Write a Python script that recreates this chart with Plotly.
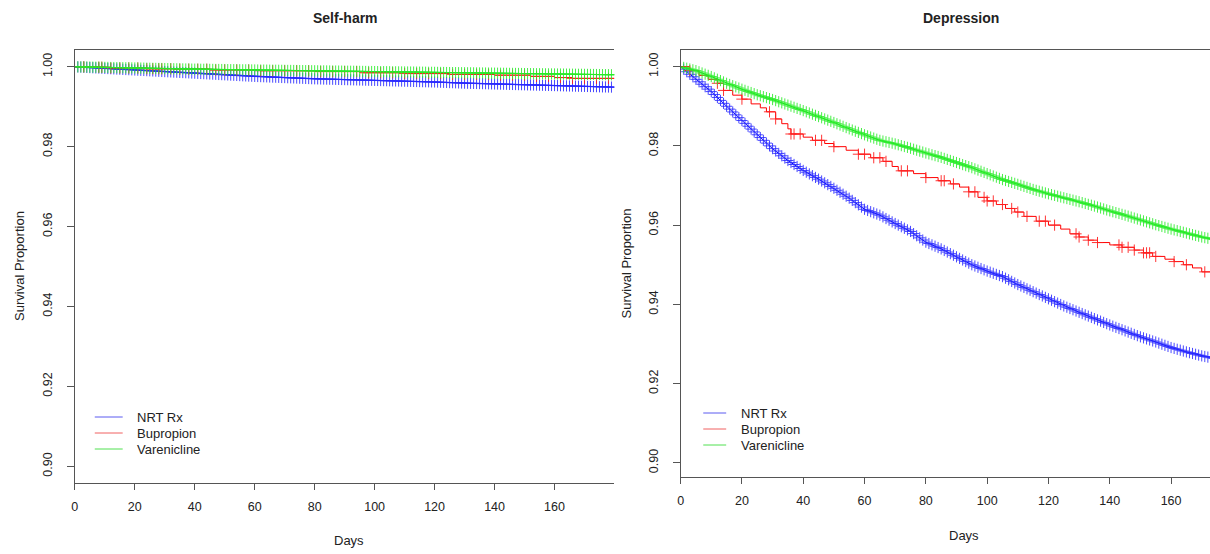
import numpy as np
import plotly.graph_objects as go

W, H = 1210, 554

# ---------------- data ----------------
group_names = ["NRT Rx", "Bupropion", "Varenicline"]
panel_titles = ["Self-harm", "Depression"]
x_tick_vals = [0, 20, 40, 60, 80, 100, 120, 140, 160]
x_tick_text = ["0", "20", "40", "60", "80", "100", "120", "140", "160"]
y_tick_vals = [0.90, 0.92, 0.94, 0.96, 0.98, 1.00]
y_tick_text = ["0.90", "0.92", "0.94", "0.96", "0.98", "1.00"]

# Self-harm panel
sh_nrt_t = [0, 10, 20, 30, 40, 50, 60, 70, 80, 90, 100, 110, 120, 130, 140, 150, 160, 170, 180]
sh_nrt_s = [1.0, 0.9996, 0.9992, 0.9988, 0.9984, 0.9980, 0.9976, 0.9973, 0.9970, 0.9968,
            0.9966, 0.9964, 0.9962, 0.9959, 0.9957, 0.9955, 0.9953, 0.9951, 0.9949]
sh_bup_t = [0, 8, 12, 24, 33, 45, 62, 80, 95, 110, 125, 140, 152, 160, 166, 180]
sh_bup_s = [1.0, 0.9999, 0.9997, 0.9995, 0.9994, 0.9992, 0.9990, 0.9988, 0.9985, 0.9983,
            0.9981, 0.9979, 0.9976, 0.9973, 0.9971, 0.9971]
sh_var_t = [0, 20, 40, 60, 80, 100, 120, 140, 160, 180]
sh_var_s = [1.0, 0.9997, 0.9994, 0.9992, 0.9990, 0.9988, 0.9986, 0.9984, 0.9982, 0.9980]

# Depression panel
dp_nrt_t = [0, 5, 10, 15, 20, 25, 30, 35, 40, 45, 50, 55, 60, 65, 70, 75, 80, 85, 90, 95, 100,
            105, 110, 115, 120, 125, 130, 135, 140, 145, 150, 155, 160, 165, 170, 175]
dp_nrt_s = [1.0, 0.9968, 0.9937, 0.9900, 0.9864, 0.9828, 0.9793, 0.9763, 0.9738, 0.9716,
            0.9693, 0.9668, 0.9640, 0.9625, 0.9604, 0.9584, 0.9557, 0.9540, 0.9520, 0.9500,
            0.9484, 0.9470, 0.9450, 0.9432, 0.9414, 0.9396, 0.9380, 0.9364, 0.9348, 0.9333,
            0.9318, 0.9305, 0.9291, 0.9280, 0.9270, 0.9262]
dp_bup_t = [0, 3, 6, 9, 12, 14, 17, 20, 23, 26, 28, 31, 33, 35, 36, 40, 43, 47, 50, 54, 58,
            62, 66, 69, 71, 76, 80, 84, 88, 91, 94, 97, 100, 103, 106, 109, 112, 116, 120,
            124, 127, 130, 133, 136, 140, 144, 148, 151, 154, 158, 161, 164, 167, 170, 180]
dp_bup_s = [1.0, 0.9990, 0.9978, 0.9968, 0.9958, 0.9940, 0.9928, 0.9918, 0.9906, 0.9896,
            0.9886, 0.9868, 0.9856, 0.9843, 0.9830, 0.9822, 0.9814, 0.9806, 0.9798, 0.9789,
            0.9779, 0.9770, 0.9761, 0.9748, 0.9737, 0.9730, 0.9720, 0.9712, 0.9704, 0.9696,
            0.9684, 0.9670, 0.9661, 0.9652, 0.9642, 0.9633, 0.9622, 0.9610, 0.9600, 0.9590,
            0.9578, 0.9570, 0.9562, 0.9556, 0.9550, 0.9544, 0.9537, 0.9530, 0.9521, 0.9514,
            0.9508, 0.9500, 0.9492, 0.9482, 0.9482]
dp_var_t = [0, 5, 10, 15, 20, 25, 30, 35, 40, 45, 50, 55, 60, 65, 70, 75, 80, 85, 90, 95, 100,
            105, 110, 115, 120, 125, 130, 135, 140, 145, 150, 155, 160, 165, 170, 175]
dp_var_s = [1.0, 0.9990, 0.9975, 0.9958, 0.9943, 0.9929, 0.9917, 0.9903, 0.9889, 0.9874,
            0.9859, 0.9843, 0.9828, 0.9814, 0.9805, 0.9794, 0.9782, 0.9771, 0.9758, 0.9745,
            0.9730, 0.9715, 0.9703, 0.9690, 0.9679, 0.9669, 0.9659, 0.9648, 0.9636, 0.9625,
            0.9613, 0.9601, 0.9590, 0.9580, 0.9570, 0.9562]

# censoring times (days)
dense_censor_days = [1, 2, 3, 4, 5, 6, 7, 8, 9, 10, 11, 12, 13, 14, 15, 16, 17, 18, 19, 20,
                     21, 22, 23, 24, 25, 26, 27, 28, 29, 30, 31, 32, 33, 34, 35, 36, 37, 38,
                     39, 40, 41, 42, 43, 44, 45, 46, 47, 48, 49, 50, 51, 52, 53, 54, 55, 56,
                     57, 58, 59, 60, 61, 62, 63, 64, 65, 66, 67, 68, 69, 70, 71, 72, 73, 74,
                     75, 76, 77, 78, 79, 80, 81, 82, 83, 84, 85, 86, 87, 88, 89, 90, 91, 92,
                     93, 94, 95, 96, 97, 98, 99, 100, 101, 102, 103, 104, 105, 106, 107, 108,
                     109, 110, 111, 112, 113, 114, 115, 116, 117, 118, 119, 120, 121, 122,
                     123, 124, 125, 126, 127, 128, 129, 130, 131, 132, 133, 134, 135, 136,
                     137, 138, 139, 140, 141, 142, 143, 144, 145, 146, 147, 148, 149, 150,
                     151, 152, 153, 154, 155, 156, 157, 158, 159, 160, 161, 162, 163, 164,
                     165, 166, 167, 168, 169, 170, 171, 172, 173, 174, 175, 176, 177, 178, 179]
sh_bup_censor = [3, 8, 9, 12, 15, 18, 21, 24, 26, 28, 29, 32, 35, 38, 41, 44, 47, 50, 54, 58,
                 62, 66, 70, 74, 78, 82, 86, 90, 94, 98, 102, 106, 110, 114, 118, 122, 126,
                 130, 134, 138, 142, 146, 150, 154, 158, 162, 166, 170, 174, 178]
dp_bup_censor = [3, 12, 14, 20, 29, 31, 36, 37, 39, 44, 46, 50, 58, 60, 63, 65, 67, 72, 74, 80,
                 85, 86, 89, 94, 96, 99, 100, 102, 105, 108, 110, 113, 117, 119, 122, 129, 130,
                 133, 136, 143, 144, 146, 148, 151, 152, 153, 155, 161, 165, 171]

colors = ["#0000ff", "#ff0000", "#00e600"]
mark_colors = ["rgba(40,40,255,0.85)", "rgba(255,30,30,0.9)", "rgba(40,235,40,0.85)"]
legend_colors = ["#5a5af0", "#f06060", "#50e050"]

panels = [
    dict(curves=[(sh_nrt_t, sh_nrt_s, "linear", dense_censor_days),
                 (sh_bup_t, sh_bup_s, "hv", sh_bup_censor),
                 (sh_var_t, sh_var_s, "linear", dense_censor_days)],
         xa="x", ya="y"),
    dict(curves=[(dp_nrt_t, dp_nrt_s, "linear", dense_censor_days),
                 (dp_bup_t, dp_bup_s, "hv", dp_bup_censor),
                 (dp_var_t, dp_var_s, "linear", dense_censor_days)],
         xa="x2", ya="y2"),
]


def curve_value(t, times, surv, shape):
    times = np.asarray(times, float)
    surv = np.asarray(surv, float)
    t = np.asarray(t, float)
    if shape == "hv":
        idx = np.searchsorted(times, t, side="right") - 1
        return surv[np.clip(idx, 0, len(surv) - 1)]
    return np.interp(t, times, surv)


fig = go.Figure()
for p in panels:
    for i, (tt, ss, shape, cens) in enumerate(p["curves"]):
        fig.add_trace(go.Scatter(
            x=tt, y=ss, mode="lines", line=dict(color=colors[i], width=1, shape=shape),
            name=group_names[i], xaxis=p["xa"], yaxis=p["ya"],
            showlegend=False, hoverinfo="skip"))
        fig.add_trace(go.Scatter(
            x=cens, y=curve_value(cens, tt, ss, shape), mode="markers",
            marker=dict(symbol="cross-thin", size=8, color=mark_colors[i],
                        line=dict(width=1, color=mark_colors[i])),
            name=group_names[i] + " (censored)",
            xaxis=p["xa"], yaxis=p["ya"], showlegend=False, hoverinfo="skip"))

FONT = "Liberation Sans, Arial, Helvetica, sans-serif"
AX = "#555555"
TXT = "#222222"


def px_x(v):
    return v / W


def px_y(v):
    return 1 - v / H


common_x = dict(tickvals=x_tick_vals, ticktext=x_tick_text, showline=True, linecolor=AX,
                linewidth=1, mirror=True, ticks="outside", ticklen=6, tickcolor=AX,
                showgrid=False, zeroline=False, tickfont=dict(size=12.5, color=TXT),
                ticklabelstandoff=6)
common_y = dict(tickvals=y_tick_vals, ticktext=y_tick_text, showline=True, linecolor=AX,
                linewidth=1, ticks="outside", ticklen=7, tickcolor=AX, showgrid=False,
                zeroline=False, tickangle=-90, tickfont=dict(size=12.5, color=TXT),
                ticklabelstandoff=10)


def ann(text, x, y, size=13, angle=0, xanchor="center"):
    return dict(text=text, x=px_x(x), y=px_y(y), xref="paper", yref="paper",
                showarrow=False, textangle=angle, xanchor=xanchor, yanchor="middle",
                font=dict(size=size, color=TXT, family=FONT))


annotations = [
    ann("<b>%s</b>" % panel_titles[0], 343, 18, size=14),
    ann("<b>%s</b>" % panel_titles[1], 960, 18, size=14),
    ann("Survival Proportion", 17, 266, angle=-90),
    ann("Survival Proportion", 625, 263, angle=-90),
    ann("Days", 347, 540),
    ann("Days", 963, 535),
]

# legends (one per panel): key line + label
shapes = []
legend_specs = [(92, 120, 132, [417, 433, 449]), (702, 725, 738, [413, 429, 445])]
for (lx0, lx1, tx, rows) in legend_specs:
    for i, ry in enumerate(rows):
        shapes.append(dict(type="line", xref="paper", yref="paper",
                           x0=px_x(lx0), x1=px_x(lx1), y0=px_y(ry), y1=px_y(ry),
                           line=dict(color=legend_colors[i], width=1)))
        annotations.append(ann(group_names[i], tx, ry + 0.5, size=13, xanchor="left"))

fig.update_layout(
    width=W, height=H, margin=dict(l=0, r=0, t=0, b=0),
    paper_bgcolor="white", plot_bgcolor="white",
    font=dict(family=FONT, color=TXT),
    showlegend=False,
    xaxis=dict(domain=[px_x(72), px_x(613)], range=[0, 180], anchor="y", **common_x),
    yaxis=dict(domain=[px_y(482.7), px_y(50)], range=[0.8959, 1.0042], anchor="x", **common_y),
    xaxis2=dict(domain=[px_x(679.3), 1.0], range=[0, 172.7], anchor="y2", **common_x),
    yaxis2=dict(domain=[px_y(476.7), px_y(50)], range=[0.8965, 1.0042], anchor="x2", **common_y),
    annotations=annotations,
    shapes=shapes,
)

fig.write_html("out.html", config={"displayModeBar": False},
               post_script="document.body.style.margin='0';document.body.style.overflow='hidden';")
